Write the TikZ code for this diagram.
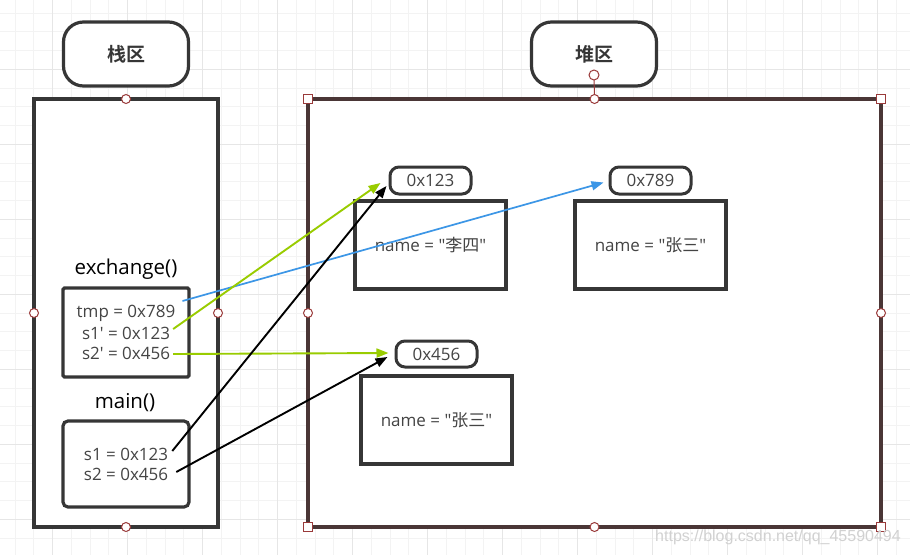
\documentclass[tikz,border=0pt]{standalone}
\usepackage{fontspec}
\setmainfont{Open Sans}
\newfontfamily\cjk{Noto Sans CJK SC}[BoldFont={Noto Sans CJK SC Bold}]
\newfontfamily\wmfont{Liberation Sans}
\usetikzlibrary{arrows.meta,calc}
\definecolor{edge}{HTML}{363636}
\definecolor{heapedge}{HTML}{4A3636}
\definecolor{handle}{HTML}{9A3A3A}
\definecolor{txt}{HTML}{444444}
\definecolor{arrgreen}{HTML}{99CC00}
\definecolor{arrblue}{HTML}{3C96E6}
\definecolor{gminor}{HTML}{F3F3F3}
\definecolor{gmajor}{HTML}{E6E6E6}
\tikzset{
  region/.style={draw=#1, line width=3.2pt, fill=white, inner sep=0pt, outer sep=0pt},
  title/.style={draw=edge, line width=3.2pt, fill=white, rounded corners=20pt,
    minimum width=125pt, minimum height=64pt, inner sep=0pt,
    font=\cjk\bfseries\fontsize{19}{19}\selectfont, text=edge},
  addr/.style={draw=edge, line width=3pt, fill=white, rounded corners=9pt,
    minimum width=81pt, minimum height=27pt, inner sep=0pt,
    font=\fontsize{17}{17}\selectfont, text=txt},
  obj/.style={draw=edge, line width=3.2pt, fill=white,
    minimum width=151pt, minimum height=88pt, inner sep=0pt,
    font=\fontsize{17}{17}\selectfont, text=txt},
  frame/.style={draw=edge, line width=3.2pt, fill=white, inner sep=0pt,
    minimum width=126pt},
  lbl/.style={font=\fontsize{20.5}{20.5}\selectfont, text=black, inner sep=0pt},
  val/.style={font=\fontsize{17}{17}\selectfont, text=txt, inner sep=0pt},
  hcirc/.style={draw=handle, line width=1pt, fill=white, circle, minimum size=9pt, inner sep=0pt},
  hsq/.style={draw=handle, line width=1pt, fill=white, minimum size=9pt, inner sep=0pt},
  ptr/.style={line width=#1, -{Triangle[length=12pt,width=9pt]}},
}
\begin{document}
\begin{tikzpicture}[x=1pt,y=-1pt]
\useasboundingbox (0,0) rectangle (910,555);
\fill[white] (0,0) rectangle (910,555);
% grid
\foreach \i in {0,...,48} {\draw[gminor, line width=1pt] ({15.2+18.75*\i},0) -- ({15.2+18.75*\i},555);}
\foreach \j in {0,...,29} {\draw[gminor, line width=1pt] (0,{13.05+18.75*\j}) -- (910,{13.05+18.75*\j});}
\foreach \i in {0,...,11} {\draw[gmajor, line width=1pt] ({52.7+75*\i},0) -- ({52.7+75*\i},555);}
\foreach \j in {-1,...,6} {\draw[gmajor, line width=1pt] (0,{69.3+75*\j}) -- (910,{69.3+75*\j});}

% titles
\node[title] (stacktitle) at (126,54) {栈区};
\node[title] (heaptitle) at (594,54) {堆区};

% regions
\node[region=edge, minimum width=184pt, minimum height=428pt] (stack) at (126,313) {};
\node[region=heapedge, minimum width=573pt, minimum height=428pt] (heap) at (594.5,313) {};

% stack frames
\node[lbl] (exl) at (126,269) {exchange()};
\node[frame, minimum height=89pt, rounded corners=1.5pt] (exbox) at (126,332.5) {};
\node[val] (t1) at (126,313) {tmp = 0x789};
\node[val] (t2) at (126,333) {s1\textquotesingle{} = 0x123};
\node[val] (t3) at (126,353) {s2\textquotesingle{} = 0x456};

\node[lbl] (mnl) at (125,403) {main()};
\node[frame, minimum height=86pt, rounded corners=5pt] (mainbox) at (126,464) {};
\node[val] (m1) at (126,454) {s1 = 0x123};
\node[val] (m2) at (126,474) {s2 = 0x456};

% heap objects
\node[addr] (a123) at (430.5,180.5) {0x123};
\node[obj] (o1) at (430.5,245) {name = \textquotedbl{\cjk 李四}\textquotedbl};
\node[addr] (a789) at (650.5,180.5) {0x789};
\node[obj] (o2) at (650.5,245) {name = \textquotedbl{\cjk 张三}\textquotedbl};
\node[addr, minimum height=26pt] (a456) at (436.5,354) {0x456};
\node[obj] (o3) at (436.5,420) {name = \textquotedbl{\cjk 张三}\textquotedbl};

% pointers
\draw[ptr=1.7pt, arrblue] ($(t1.east)+(7,-12)$) -- ($(a789.west)+(-5,2)$);
\draw[ptr=1.9pt, arrgreen] ($(t2.east)+(3,-4)$) -- ($(a123.west)+(-8,2.5)$);
\draw[ptr=1.9pt, arrgreen] ($(t3.east)+(3,1)$) -- ($(a456.west)+(-6,-1)$);
\draw[ptr=1.9pt, black] ($(m1.east)+(4,-3)$) -- ($(a123.west)+(-2,5.5)$);
\draw[ptr=1.9pt, black] ($(m2.east)+(8,-2)$) -- ($(a456.west)+(-7,3)$);

% selection handles
\coordinate (hh) at (594,75);
\draw[handle, line width=1pt] (hh) -- (heap.north);
\node[hcirc, minimum size=10pt] at (hh) {};
\foreach \a in {north,south,east,west} {\node[hcirc] at (stack.\a) {};}
\foreach \a in {north,south,east,west} {\node[hcirc] at (heap.\a) {};}
\foreach \a in {north west,north east,south west,south east} {\node[hsq] at (heap.\a) {};}

% watermark
\node[font=\wmfont\fontsize{16}{16}\selectfont, text=black!18, inner sep=0pt] (wm) at (778,537) {https://blog.csdn.net/qq\_45590494};
\end{tikzpicture}
\end{document}
